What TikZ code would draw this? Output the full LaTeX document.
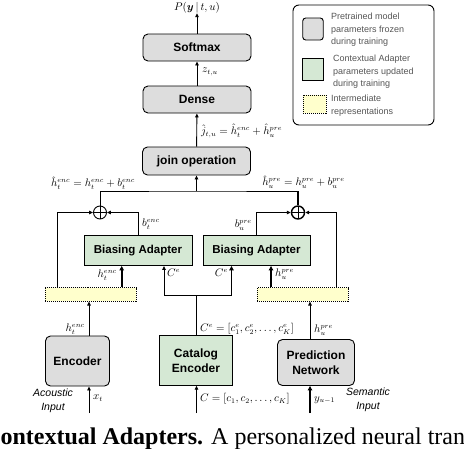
\documentclass[tikz,border=0pt]{standalone}
\usepackage{amsmath}
\usepackage{fontspec}
\setmainfont{Liberation Serif}
\setsansfont{Liberation Sans}
\usetikzlibrary{arrows.meta}
\definecolor{gg}{RGB}{221, 221, 221}
\definecolor{gn}{RGB}{213, 232, 212}
\definecolor{yy}{RGB}{255, 255, 204}
\definecolor{tx}{RGB}{85, 85, 85}

\begin{document}
\begin{tikzpicture}[x=1pt, y=1pt,
  every node/.style={inner sep=0pt},
  box/.style={draw=black, line width=0.9pt, minimum width=108pt, align=center, font=\sffamily\bfseries\fontsize{12}{15}\selectfont},
  frozen/.style={box, fill=gg, rounded corners=5pt},
  adapt/.style={box, fill=gn},
  inter/.style={draw=black, densely dotted, line width=1pt, fill=yy, minimum width=91pt, minimum height=13.5pt},
  pls/.style={circle, draw=black, line width=0.9pt, minimum size=13pt, path picture={\draw [line width=0.9pt] (path picture bounding box.north) -- (path picture bounding box.south) (path picture bounding box.west) -- (path picture bounding box.east);}},
  lbl/.style={font=\fontsize{10.5}{12}\selectfont},
  side/.style={font=\sffamily\itshape\fontsize{10.5}{13.5}\selectfont, align=center},
  keytxt/.style={font=\sffamily\fontsize{9}{12.5}\selectfont, text=tx, align=left, anchor=west},
  pipe/.style={line width=0.9pt, -{Triangle[length=4pt, width=3.5pt]}},
  fat/.style={line width=1.8pt, -{Triangle[length=4.5pt, width=4.5pt]}},
  wire/.style={line width=0.9pt}]
\useasboundingbox (0pt, 0pt) rectangle (464pt, -448pt);

\draw [line width=0.9pt, rounded corners=6pt] (293pt, -5pt) rectangle (434pt, -125pt);
\node (kg) [frozen, minimum width=20.5pt, minimum height=22pt, rounded corners=3pt] at (313pt, -29pt) {};
\node (kgt) [keytxt] at (331pt, -30pt) {Pretrained model\\parameters frozen\\during training};
\node (kn) [adapt, minimum width=20.5pt, minimum height=22.5pt] at (313pt, -69.5pt) {};
\node (knt) [keytxt] at (333pt, -72pt) {Contextual Adapter\\parameters updated\\during training};
\node (ky) [inter, minimum width=23pt, minimum height=18pt] at (314.5pt, -104pt) {};
\node (kyt) [keytxt] at (331pt, -105.5pt) {Intermediate\\representations};

\node (out) [lbl] at (197pt, -7.5pt) {$P(\boldsymbol{y}\,|\,t,u)$};
\node (sm) [frozen, minimum height=27pt] at (197pt, -47.5pt) {Softmax};
\node (dn) [frozen, minimum height=27pt] at (197pt, -99.5pt) {Dense};
\node (jo) [frozen, minimum height=28pt] at (196.5pt, -161pt) {join operation};
\node (bl) [adapt, minimum height=30pt, font=\sffamily\bfseries\fontsize{11.5}{14}\selectfont] at (138pt, -250.5pt) {Biasing Adapter};
\node (br) [adapt, minimum height=30pt, minimum width=107pt, font=\sffamily\bfseries\fontsize{11.5}{14}\selectfont] at (256.5pt, -250.5pt) {Biasing Adapter};
\node (pl) [pls] at (100pt, -212.5pt) {};
\node (pr) [pls, line width=1.4pt] at (298pt, -212.5pt) {};
\node (yl) [inter] at (90.5pt, -294.3pt) {};
\node (yr) [inter] at (302.8pt, -294.3pt) {};
\node (enc) [frozen, minimum width=64pt, minimum height=50pt] at (77.5pt, -361pt) {Encoder};
\node (cat) [adapt, minimum width=73pt, minimum height=49.5pt] at (196pt, -360.5pt) {Catalog\\Encoder};
\node (pn) [frozen, minimum width=77pt, minimum height=46pt] at (316pt, -362.5pt) {Prediction\\Network};

\coordinate (xin) at (89pt, -413pt);
\coordinate (cin) at (196.5pt, -413pt);
\coordinate (yin) at (310pt, -413pt);
\coordinate (bus) at (196.5pt, -191pt);
\coordinate (cj) at (196.5pt, -295pt);
\coordinate (fl) at (57pt, 0pt);
\coordinate (fr) at (336pt, 0pt);
\coordinate (hl) at (121.7pt, 0pt);
\coordinate (hr) at (271pt, 0pt);
\coordinate (cl) at (164pt, 0pt);
\coordinate (cr) at (231.5pt, 0pt);

\draw [pipe] (sm) -- (out);
\draw [pipe] (dn) -- (sm);
\draw [pipe] (jo) -- (dn);
\draw [pipe] (bus) -- (jo);
\draw [wire] (pl) |- (bus) -- (pr |- bus);
\draw [line width=1.4pt] (pr) -- (pr |- bus);
\draw [pipe] (yl.north -| fl) |- (pl);
\draw [pipe] (bl) |- (pl);
\draw [pipe] (br) |- (pr);
\draw [pipe] (yr.north -| fr) |- (pr);
\draw [fat] (yl.north -| hl) -- (bl.south -| hl);
\draw [fat] (yr.north -| hr) -- (br.south -| hr);
\draw [wire] (cat.north -| cj) -- (cj);
\draw [pipe] (cj) -| (bl.south -| cl);
\draw [wire] (cj) -- (cj -| cr);
\draw [fat] (cj -| cr) -- (br.south -| cr);
\draw [pipe] (enc.north -| xin) -- (yl.south -| xin);
\draw [pipe] (pn.north -| yin) -- (yr.south -| yin);
\draw [pipe] (xin) -- (enc.south -| xin);
\draw [pipe] (cin) -- (cat.south -| cin);
\draw [fat] (yin) -- (pn.south -| yin);

\node (zl) [lbl, anchor=west] at (202pt, -72pt) {$z_{t,u}$};
\node (jl) [lbl, anchor=west] at (201pt, -131pt) {$\hat{j}_{t,u}=\hat{h}_t^{enc}+\hat{h}_u^{pre}$};
\node (el) [lbl] at (93pt, -183pt) {$\hat{h}_t^{enc}=h_t^{enc}+b_t^{enc}$};
\node (ul) [lbl] at (303.5pt, -182pt) {$\hat{h}_u^{pre}=h_u^{pre}+b_u^{pre}$};
\node (bel) [lbl, anchor=west] at (142pt, -224pt) {$b_t^{enc}$};
\node (bul) [lbl, anchor=east] at (252pt, -225pt) {$b_u^{pre}$};
\node (hel) [lbl, anchor=east] at (117pt, -275pt) {$h_t^{enc}$};
\node (cel) [lbl, anchor=west] at (167pt, -273pt) {$C^e$};
\node (cer) [lbl, anchor=east] at (228pt, -273pt) {$C^e$};
\node (hur) [lbl, anchor=west] at (275pt, -274pt) {$h_u^{pre}$};
\node (he) [lbl, anchor=east] at (85pt, -329pt) {$h_t^{enc}$};
\node (ce) [lbl, anchor=west] at (200pt, -329pt) {$C^e=[c_1^e,c_2^e,\ldots,c_K^e]$};
\node (hu) [lbl, anchor=west] at (314pt, -330pt) {$h_u^{pre}$};
\node (xl) [lbl, anchor=west] at (93pt, -398pt) {$x_t$};
\node (cc) [lbl, anchor=west] at (200pt, -399pt) {$C=[c_1,c_2,\ldots,c_K]$};
\node (yl1) [lbl, anchor=west] at (314pt, -400pt) {$y_{u-1}$};
\node (ac) [side] at (53pt, -401pt) {Acoustic\\Input};
\node (se) [side] at (368pt, -400pt) {Semantic\\Input};

\node (cap) [anchor=base west, font=\fontsize{24}{28}\selectfont] at (-17pt, -444pt) {\textbf{Contextual Adapters.} A personalized neural transducer};
\end{tikzpicture}
\end{document}
